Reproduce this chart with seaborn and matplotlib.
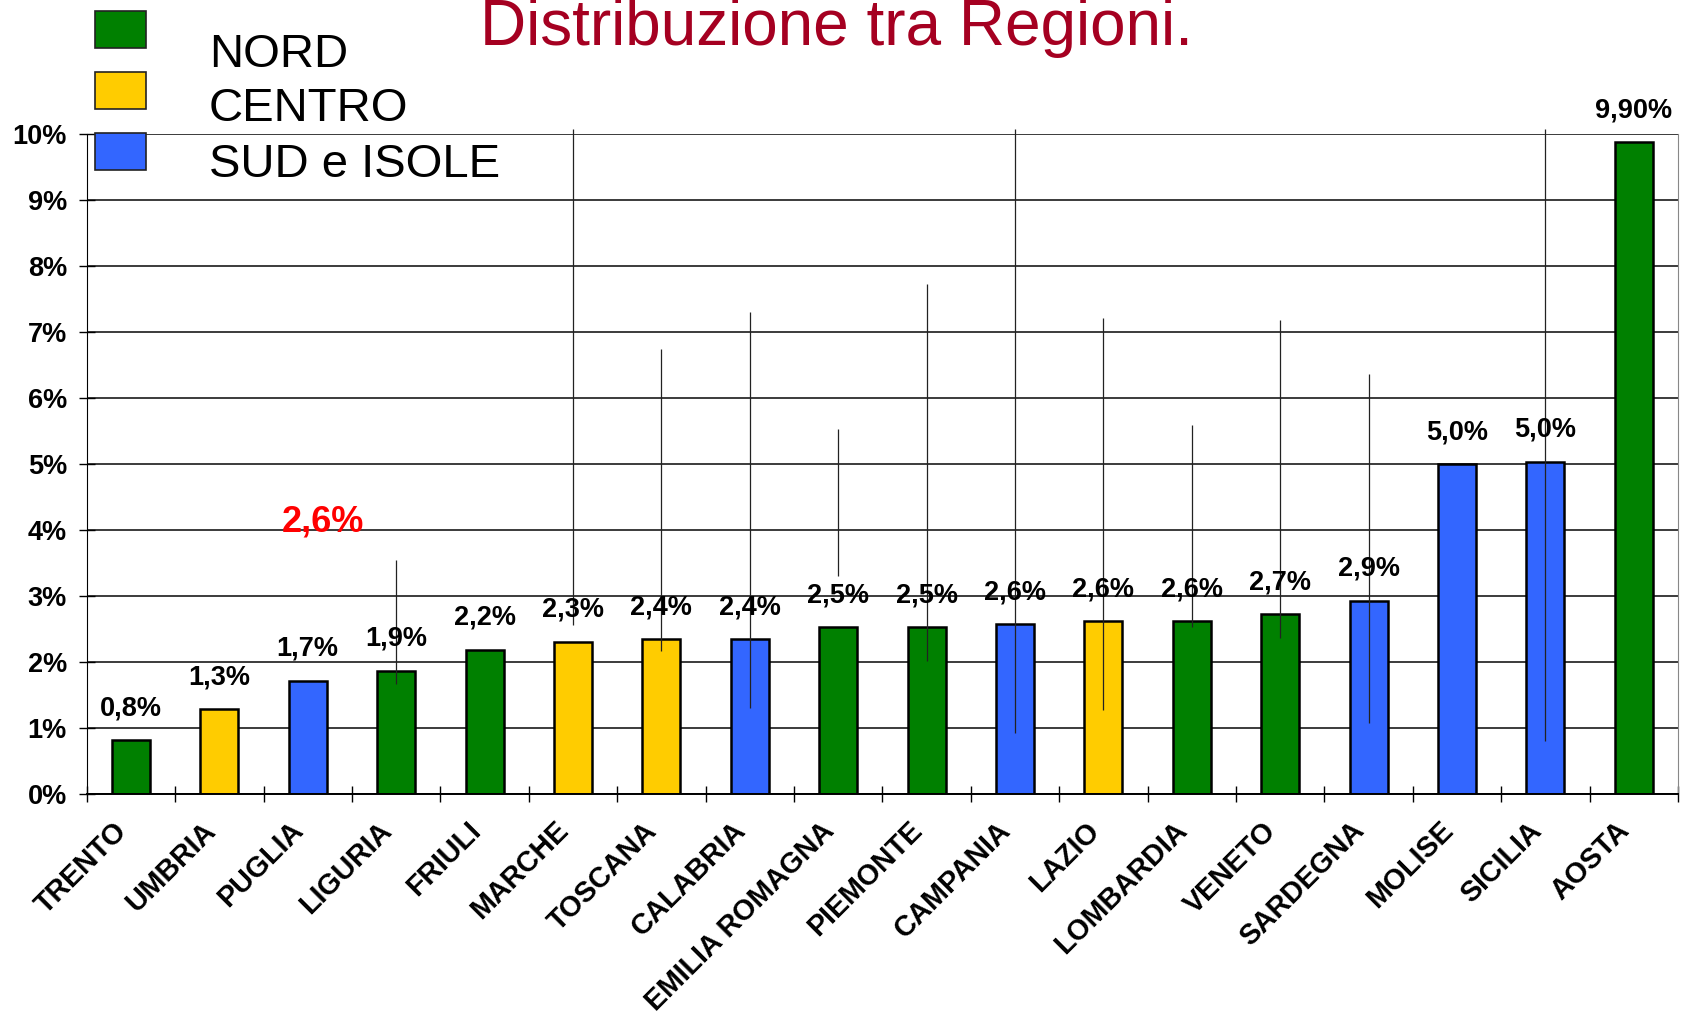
import numpy as np
import pandas as pd
import matplotlib
matplotlib.use('Agg')
import matplotlib.pyplot as plt
from matplotlib.patches import Rectangle
from matplotlib.transforms import ScaledTranslation
import seaborn as sns

# Dati
regioni = ['TRENTO', 'UMBRIA', 'PUGLIA', 'LIGURIA', 'FRIULI', 'MARCHE', 'TOSCANA',
           'CALABRIA', 'EMILIA ROMAGNA', 'PIEMONTE', 'CAMPANIA', 'LAZIO',
           'LOMBARDIA', 'VENETO', 'SARDEGNA', 'MOLISE', 'SICILIA', 'AOSTA']
area = ['NORD', 'CENTRO', 'SUD e ISOLE', 'NORD', 'NORD', 'CENTRO', 'CENTRO',
        'SUD e ISOLE', 'NORD', 'NORD', 'SUD e ISOLE', 'CENTRO',
        'NORD', 'NORD', 'SUD e ISOLE', 'SUD e ISOLE', 'SUD e ISOLE', 'NORD']
valori = [0.82, 1.29, 1.72, 1.87, 2.19, 2.31, 2.35, 2.35, 2.53, 2.53,
          2.58, 2.62, 2.62, 2.73, 2.93, 5.00, 5.04, 9.88]
etichette = ['0,8%', '1,3%', '1,7%', '1,9%', '2,2%', '2,3%', '2,4%', '2,4%', '2,5%',
             '2,5%', '2,6%', '2,6%', '2,6%', '2,7%', '2,9%', '5,0%', '5,0%', '9,90%']
nan = np.nan
# estremi delle linee verticali (nan = nessuna linea)
minimo = [nan, nan, nan, 1.67, nan, 2.56, 2.17, 1.31, 3.31, 2.02,
          0.93, 1.27, 2.53, 2.37, 1.08, nan, 0.81, nan]
massimo = [nan, nan, nan, 3.55, nan, 10.08, 6.75, 7.30, 5.54, 7.73,
           10.08, 7.22, 5.59, 7.18, 6.37, nan, 10.08, nan]
aree = ['NORD', 'CENTRO', 'SUD e ISOLE']
colori = {'NORD': '#008000', 'CENTRO': '#FFCC00', 'SUD e ISOLE': '#3366FF'}
media_testo = '2,6%'
media_pos = (2.17, 4.12)
yticks = list(range(0, 11))

df = pd.DataFrame({'regione': regioni, 'area': area, 'valore': valori})

sns.set_style('white')
plt.rcParams['font.family'] = ['Liberation Sans', 'DejaVu Sans']
plt.rcParams['text.color'] = 'black'
plt.rcParams['xtick.color'] = 'black'
plt.rcParams['ytick.color'] = 'black'

W, H = 1692, 1013
fig = plt.figure(figsize=(W / 100, H / 100), dpi=100)
ax = fig.add_axes([86.7 / W, 1 - 794.3 / H, (1678 - 86.7) / W, (794.3 - 134.3) / H])

sns.barplot(data=df, x='regione', y='valore', hue='area', palette=colori,
            dodge=False, width=0.43, saturation=1, edgecolor='black', linewidth=1.8,
            legend=False, ax=ax, zorder=2)

# linee verticali min-max
x = np.arange(len(regioni))
ax.vlines(x, minimo, massimo, colors='#222222', linewidth=0.9, zorder=4, clip_on=False)

# etichette dei valori
for i, (v, lab) in enumerate(zip(valori, etichette)):
    ax.annotate(lab, (i, v), xytext=(0, 23), textcoords='offset points',
                ha='center', va='center', fontsize=19.5, fontweight='bold',
                color='black', zorder=5)

ax.text(media_pos[0], media_pos[1], media_testo, color='#FF0000', fontsize=26,
        fontweight='bold', ha='center', va='center')

ax.set_xlim(-0.5, len(regioni) - 0.5)
ax.set_ylim(0, 10)
ax.set_yticks(yticks)
ax.set_yticklabels([f'{t}%' for t in yticks], fontsize=19.5, fontweight='bold')
ax.yaxis.grid(True, color='#1a1a1a', linewidth=1.2)
ax.xaxis.grid(False)
ax.set_axisbelow(True)
ax.tick_params(axis='y', direction='inout', length=11.5, width=1, pad=8.5, left=True)

ax.set_xticks(x)
ax.set_xticklabels(regioni, rotation=45, ha='right', va='center', rotation_mode='anchor',
                   fontsize=20.6, fontweight='bold')
ax.tick_params(axis='x', which='major', length=0, pad=22)
spost = ScaledTranslation(-8.5 / 100, -1.5 / 100, fig.dpi_scale_trans)
for lab in ax.get_xticklabels():
    lab.set_transform(lab.get_transform() + spost)
ax.set_xticks(np.arange(-0.5, len(regioni), 1), minor=True)
ax.tick_params(axis='x', which='minor', direction='inout', length=11.5, width=1, bottom=True)
ax.set_xlabel('')
ax.set_ylabel('')

ax.spines['top'].set_visible(False)
ax.spines['left'].set_color('black')
ax.spines['bottom'].set_color('black')
ax.spines['bottom'].set_linewidth(1.4)
ax.spines['right'].set_color('#888888')
ax.spines['right'].set_linewidth(0.8)

# titolo
fig.text(836 / W, 1 - 45 / H, 'Distribuzione tra Regioni.', ha='center', va='baseline',
         fontsize=46, color='#A50021')

# legenda manuale
quad_top = [10.7, 71.7, 133.5]
testo_base = [66.7, 120.7, 176.7]
for nome, qt, tb in zip(aree, quad_top, testo_base):
    fig.add_artist(Rectangle((95 / W, 1 - (qt + 37) / H), 51 / W, 37 / H,
                             transform=fig.transFigure, facecolor=colori[nome],
                             edgecolor='#222222', linewidth=1.2))
    fig.text(209 / W, 1 - tb / H, nome, ha='left', va='baseline', fontsize=34, color='black')

fig.savefig('out.png', dpi=100)
